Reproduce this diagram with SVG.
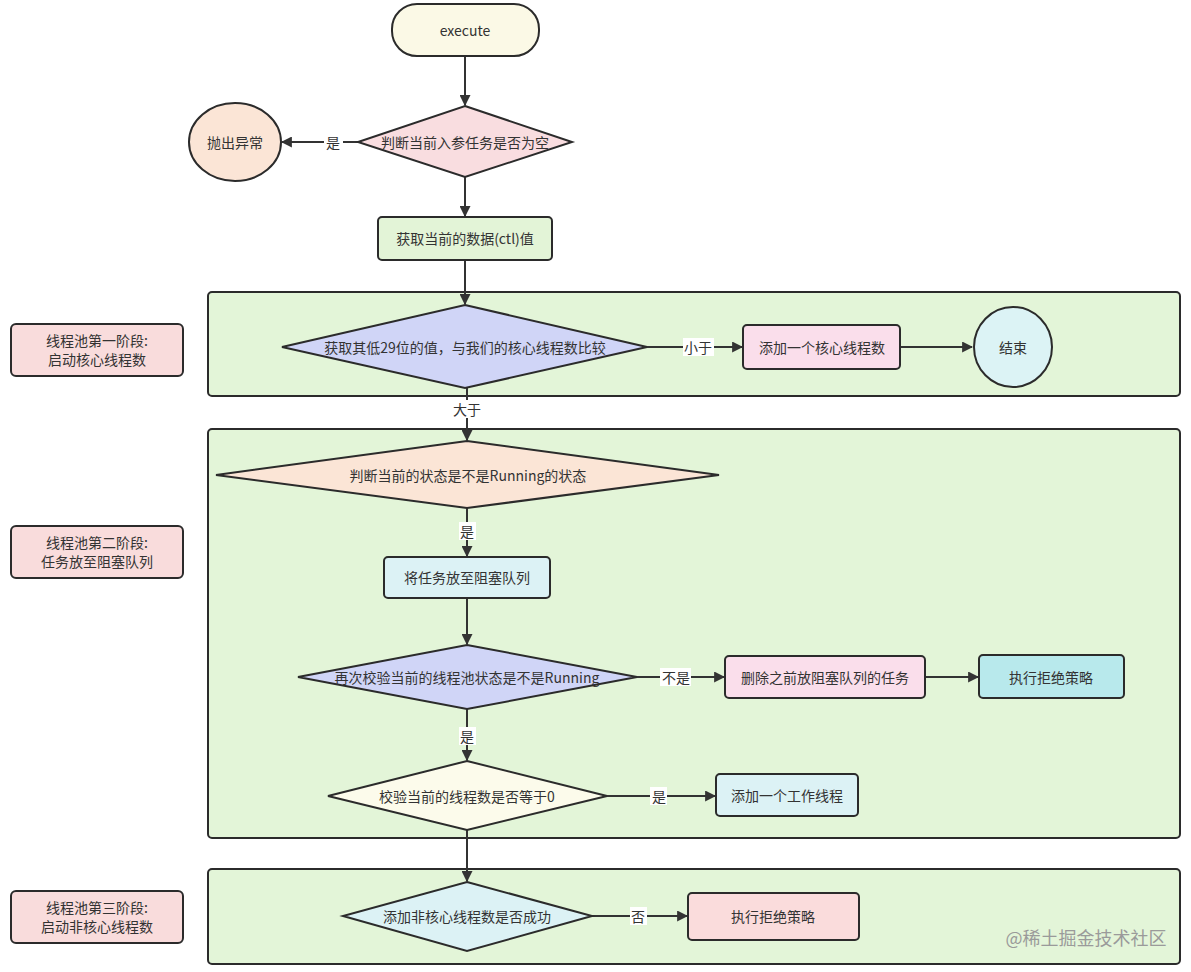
<svg xmlns="http://www.w3.org/2000/svg" width="1191" height="972" viewBox="0 0 1191 972">
<style>
.n{stroke:#2b2b2b;stroke-width:2}
.t{font-family:"Noto Sans CJK SC","Liberation Sans",sans-serif;font-size:14px;fill:#333;text-anchor:middle;dominant-baseline:central}
.c{stroke:#333;stroke-width:2;fill:none;marker-end:url(#ah)}
.lb{fill:#fff}
.stage{fill:#e3f5d8;stroke:#2b2b2b;stroke-width:2}
</style>
<defs>
<marker id="ah" viewBox="0 0 10 10" refX="9" refY="5" markerWidth="5.5" markerHeight="5.5" orient="auto" markerUnits="strokeWidth">
<path d="M0,0 L10,5 L0,10 Z" fill="#333"/>
</marker>
</defs>
<rect width="1191" height="972" fill="#fff"/>

<g id="stages">
<rect class="stage" x="208" y="292" width="972" height="104" rx="4"/>
<rect class="stage" x="208" y="429" width="972" height="409" rx="4"/>
<rect class="stage" x="208" y="869" width="972" height="95" rx="4"/>
</g>

<g id="stage1-label"><rect class="n" x="11" y="324" width="172" height="52" rx="5" fill="#f9dcdc"/><text class="t" x="97" y="340">线程池第一阶段:</text><text class="t" x="97" y="359">启动核心线程数</text></g>
<g id="stage2-label"><rect class="n" x="11" y="526" width="172" height="52" rx="5" fill="#f9dcdc"/><text class="t" x="97" y="542">线程池第二阶段:</text><text class="t" x="97" y="561">任务放至阻塞队列</text></g>
<g id="stage3-label"><rect class="n" x="11" y="891" width="172" height="52" rx="5" fill="#f9dcdc"/><text class="t" x="97" y="907">线程池第三阶段:</text><text class="t" x="97" y="926">启动非核心线程数</text></g>

<g id="connectors">
<line class="c" x1="465" y1="56" x2="465" y2="105"/>
<line class="c" x1="358" y1="142" x2="282" y2="142"/>
<line class="c" x1="465" y1="177" x2="465" y2="216"/>
<line class="c" x1="465" y1="260" x2="465" y2="304"/>
<line class="c" x1="647" y1="347" x2="742" y2="347"/>
<line class="c" x1="900" y1="347" x2="972" y2="347"/>
<line class="c" x1="467" y1="388" x2="467" y2="440"/>
<line class="c" x1="467" y1="508" x2="467" y2="556"/>
<line class="c" x1="467" y1="598" x2="467" y2="644"/>
<line class="c" x1="637" y1="677" x2="724" y2="677"/>
<line class="c" x1="925" y1="677" x2="978" y2="677"/>
<line class="c" x1="467" y1="709" x2="467" y2="760"/>
<line class="c" x1="607" y1="796" x2="715" y2="796"/>
<line class="c" x1="467" y1="830" x2="467" y2="881"/>
<line class="c" x1="592" y1="916" x2="687" y2="916"/>
<rect class="lb" x="324" y="133" width="19" height="18"/><text class="t" x="333" y="142">是</text>
<rect class="lb" x="683" y="338" width="31" height="18"/><text class="t" x="698" y="347">小于</text>
<rect class="lb" x="450" y="400" width="34" height="18"/><text class="t" x="467" y="409">大于</text>
<rect class="lb" x="459" y="522" width="17" height="18"/><text class="t" x="467" y="531">是</text>
<rect class="lb" x="660" y="668" width="31" height="18"/><text class="t" x="676" y="677">不是</text>
<rect class="lb" x="459" y="727" width="17" height="18"/><text class="t" x="467" y="736">是</text>
<rect class="lb" x="650" y="787" width="17" height="18"/><text class="t" x="659" y="796">是</text>
<rect class="lb" x="630" y="907" width="17" height="18"/><text class="t" x="638" y="916">否</text>
</g>

<g id="execute"><rect class="n" x="392" y="4" width="147" height="52" rx="25" fill="#fbf9e6"/><text class="t" x="465" y="30">execute</text></g>
<g id="check-null"><polygon class="n" points="465,106 572,142 465,177 358,142" fill="#f9dde0"/><text class="t" x="465" y="142">判断当前入参任务是否为空</text></g>
<g id="throw"><ellipse class="n" cx="235" cy="142" rx="46" ry="39" fill="#fbe5d6"/><text class="t" x="235" y="142">抛出异常</text></g>
<g id="get-ctl"><rect class="n" x="378" y="217" width="174" height="43" rx="4" fill="#e3f4d7"/><text class="t" x="465" y="238">获取当前的数据(ctl)值</text></g>
<g id="compare-core"><polygon class="n" points="465,305 647,347 465,388 282,347" fill="#d0d5f7"/><text class="t" x="465" y="347">获取其低29位的值，与我们的核心线程数比较</text></g>
<g id="add-core"><rect class="n" x="743" y="325" width="157" height="44" rx="4" fill="#fadeeb"/><text class="t" x="822" y="347">添加一个核心线程数</text></g>
<g id="end"><ellipse class="n" cx="1013" cy="347" rx="39" ry="40" fill="#dcf3f5"/><text class="t" x="1013" y="347">结束</text></g>
<g id="check-running"><polygon class="n" points="467,441 719,475 467,508 216,475" fill="#fbe5d6"/><text class="t" x="468" y="475">判断当前的状态是不是Running的状态</text></g>
<g id="enqueue"><rect class="n" x="384" y="557" width="166" height="41" rx="4" fill="#dcf2f5"/><text class="t" x="467" y="577">将任务放至阻塞队列</text></g>
<g id="recheck-running"><polygon class="n" points="467,645 637,677 467,709 298,677" fill="#d0d5f7"/><text class="t" x="467" y="677">再次校验当前的线程池状态是不是Running</text></g>
<g id="remove-task"><rect class="n" x="725" y="656" width="200" height="42" rx="4" fill="#fadeeb"/><text class="t" x="825" y="677">删除之前放阻塞队列的任务</text></g>
<g id="reject1"><rect class="n" x="979" y="655" width="145" height="43" rx="4" fill="#b8e9ec"/><text class="t" x="1051" y="677">执行拒绝策略</text></g>
<g id="check-zero"><polygon class="n" points="467,761 607,796 467,830 328,796" fill="#fcfbeb"/><text class="t" x="467" y="796">校验当前的线程数是否等于0</text></g>
<g id="add-worker"><rect class="n" x="716" y="774" width="142" height="42" rx="4" fill="#dcf2f5"/><text class="t" x="787" y="795">添加一个工作线程</text></g>
<g id="add-noncore"><polygon class="n" points="467,882 592,916 467,951 343,916" fill="#dcf2f5"/><text class="t" x="467" y="916">添加非核心线程数是否成功</text></g>
<g id="reject2"><rect class="n" x="688" y="893" width="171" height="47" rx="4" fill="#fadcdc"/><text class="t" x="773" y="916">执行拒绝策略</text></g>
<text x="1086" y="937" font-family="'Noto Sans CJK SC','Liberation Sans',sans-serif" font-size="18" fill="#9a9a9a" text-anchor="middle" dominant-baseline="central">@稀土掘金技术社区</text>
</svg>
